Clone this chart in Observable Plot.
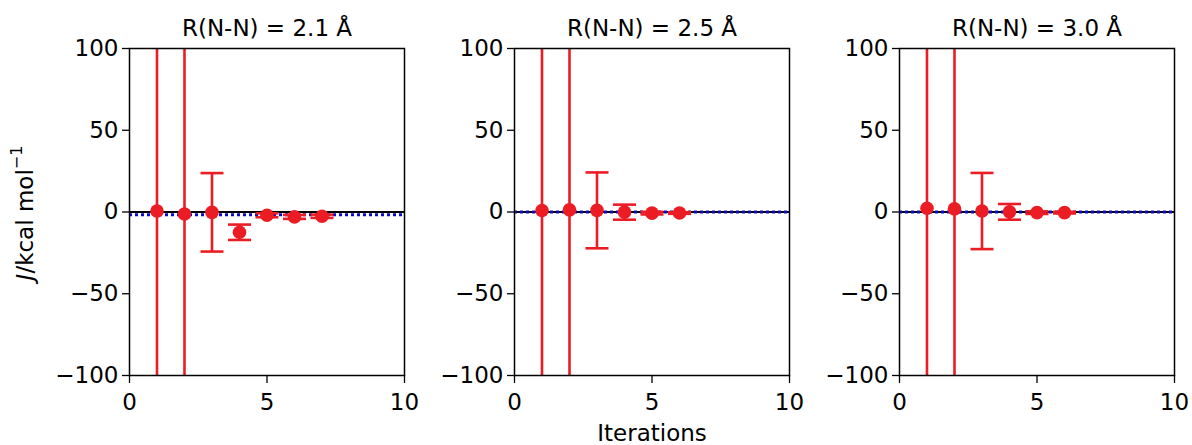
<!DOCTYPE html>
<html>
<head>
<meta charset="utf-8">
<script src="https://cdn.jsdelivr.net/npm/d3@7"></script>
<script src="https://cdn.jsdelivr.net/npm/@observablehq/plot@0.6"></script>
<style>
  html, body { margin: 0; padding: 0; background: #fff; }
  #wrap { position: relative; width: 1192px; height: 445px; overflow: hidden; font-family: "DejaVu Sans", sans-serif; }
  #wrap svg { position: absolute; top: 0; }
  #wrap svg text { font-size: 23px; }
</style>
</head>
<body>
<div id="wrap"></div>
<script>
// ---- data ----
const titles = ["R(N-N) = 2.1 Å", "R(N-N) = 2.5 Å", "R(N-N) = 3.0 Å"];
const refValues = [-1.7, 0, 0];           // blue dotted reference line
const iter1 = [1, 2, 3, 4, 5, 6, 7];
const J1    = [0.6, -1.2, -0.2, -12.4, -2.0, -3.0, -2.6];
const err1  = [400, 400, 24, 4.7, 1.2, 1.2, 1.0];
const iter2 = [1, 2, 3, 4, 5, 6];
const J2    = [0.9, 1.3, 1.0, -0.1, -0.7, -0.6];
const err2  = [400, 400, 23.2, 4.6, 0.8, 0.5];
const iter3 = [1, 2, 3, 4, 5, 6];
const J3    = [2.3, 1.9, 0.6, 0.1, -0.4, -0.4];
const err3  = [400, 400, 23.3, 4.8, 0.8, 0.5];
const yTicks = [-100, -50, 0, 50, 100];
const xTicks = [0, 5, 10];

const panels = [
  {title: titles[0], ref: refValues[0], x: iter1, y: J1, e: err1},
  {title: titles[1], ref: refValues[1], x: iter2, y: J2, e: err2},
  {title: titles[2], ref: refValues[2], x: iter3, y: J3, e: err3}
];

const RED = "#ec1c24";
const FS = 23;
const capSymbol = {
  draw(ctx) { ctx.moveTo(-11.5, 0); ctx.lineTo(11.5, 0); }
};
const lefts = [59, 444, 829];
const wrap = document.getElementById("wrap");

panels.forEach((p, i) => {
  const rows = p.x.map((x, k) => ({x, y: p.y[k], lo: p.y[k] - p.e[k], hi: p.y[k] + p.e[k]}));
  const marks = [
    Plot.ruleY([0], {stroke: "black", strokeWidth: 2}),
    Plot.ruleY([p.ref], {stroke: "#0a0acc", strokeWidth: 3, strokeDasharray: "3,3"}),
    Plot.ruleX(rows, {x: "x", y1: "lo", y2: "hi", stroke: RED, strokeWidth: 2.6, clip: true}),
    Plot.dot(rows, {x: "x", y: "lo", symbol: capSymbol, stroke: RED, strokeWidth: 2.6, clip: true}),
    Plot.dot(rows, {x: "x", y: "hi", symbol: capSymbol, stroke: RED, strokeWidth: 2.6, clip: true}),
    Plot.dot(rows, {x: "x", y: "y", r: 6.8, fill: RED, stroke: "none"}),
    Plot.frame({stroke: "black", strokeWidth: 1.5}),
    Plot.axisY(yTicks, {tickSize: 7, tickPadding: 4, fontSize: FS, stroke: "black", strokeWidth: 1.3, label: null}),
    Plot.axisX(xTicks, {tickSize: 8, tickPadding: 10, fontSize: FS, stroke: "black", strokeWidth: 1.3, label: null}),
    Plot.text([p.title], {frameAnchor: "top", dy: -29, fontSize: FS, fill: "black"})
  ];
  if (i === 1) {
    marks.push(Plot.text(["Iterations"], {frameAnchor: "bottom", dy: 65, fontSize: FS, fill: "black"}));
  }
  const svg = Plot.plot({
    width: 360,
    height: 445,
    marginLeft: 70,
    marginRight: 15,
    marginTop: 48,
    marginBottom: 70,
    style: {fontFamily: "DejaVu Sans, sans-serif", fontSize: FS + "px", color: "black", background: "transparent", overflow: "visible"},
    x: {domain: [0, 10]},
    y: {domain: [-100, 100]},
    marks
  });
  svg.style.left = lefts[i] + "px";
  wrap.appendChild(svg);
  if (i === 0) {
    const t = d3.select(svg).append("text")
      .attr("transform", "translate(-33, 213) rotate(-90)")
      .attr("text-anchor", "middle")
      .attr("dominant-baseline", "middle")
      .style("font-size", FS + "px")
      .attr("fill", "black");
    t.append("tspan").attr("font-style", "italic").text("J");
    t.append("tspan").text("/kcal mol");
    t.append("tspan").style("font-size", "16px").attr("dy", -9).text("−1");
  }
});
</script>
</body>
</html>
